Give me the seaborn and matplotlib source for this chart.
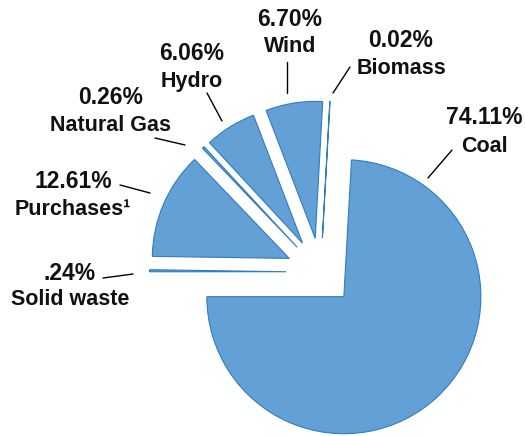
import matplotlib
matplotlib.use("Agg")
import matplotlib.pyplot as plt
import seaborn as sns

# =========================================================
# DATA
# =========================================================
sources = ["Coal", "Solid waste", "Purchases\u00b9", "Natural Gas", "Hydro", "Wind", "Biomass"]
shares  = [74.11, 0.24, 12.61, 0.26, 6.06, 6.70, 0.02]
pct_labels = ["74.11%", ".24%", "12.61%", "0.26%", "6.06%", "6.70%", "0.02%"]

# =========================================================
# LAYOUT (pixel coords, y measured from top)
# =========================================================
W, H = 525, 436
CENTER = (320.5, 272)
RADIUS = 137
# pie explode offsets are in data units (= pixels here)
explode = [34] * len(shares)

# label x, baseline of pct line, baseline of name line
label_pos = {
    "Coal":          (484, 124, 152),
    "Solid waste":   (70, 280, 305),
    "Purchases\u00b9": (73, 188, 215),
    "Natural Gas":   (111, 104, 131),
    "Hydro":         (192, 60, 87),
    "Wind":          (290, 26, 52),
    "Biomass":       (401, 47, 74),
}
leader = {
    "Coal":          ((428, 178), (452, 150)),
    "Solid waste":   ((103, 278), (133, 274)),
    "Purchases\u00b9": ((120, 185), (150, 193)),
    "Natural Gas":   ((155, 138), (185, 145)),
    "Hydro":         ((207, 93), (222, 121)),
    "Wind":          ((287, 62), (287, 93)),
    "Biomass":       ((350, 67), (333, 93)),
}

sns.set_theme(style="white")
plt.rcParams["font.family"] = ["Liberation Sans", "DejaVu Sans"]

fig = plt.figure(figsize=(W / 100, H / 100), dpi=100)
ax = fig.add_axes([0, 0, 1, 1])

ax.pie(shares, explode=explode, startangle=86.8, counterclock=False,
       center=(CENTER[0], H - CENTER[1]), radius=RADIUS,
       colors=["#62a0d5"] * len(shares),
       wedgeprops=dict(edgecolor="#2f7cc1", linewidth=0.8),
       frame=True)
ax.set_xlim(0, W)
ax.set_ylim(0, H)
ax.set_aspect("equal")
ax.axis("off")

for name, pct in zip(sources, pct_labels):
    x, y1, y2 = label_pos[name]
    ax.text(x, H - y1, pct, ha="center", va="baseline", fontsize=16.5,
            fontweight="bold", color="#111111")
    ax.text(x, H - y2, name, ha="center", va="baseline", fontsize=15.5,
            fontweight="bold", color="#111111")
    (xa, ya), (xb, yb) = leader[name]
    ax.plot([xa, xb], [H - ya, H - yb], color="black", linewidth=1)

plt.savefig("out.png", dpi=100)
plt.close()
